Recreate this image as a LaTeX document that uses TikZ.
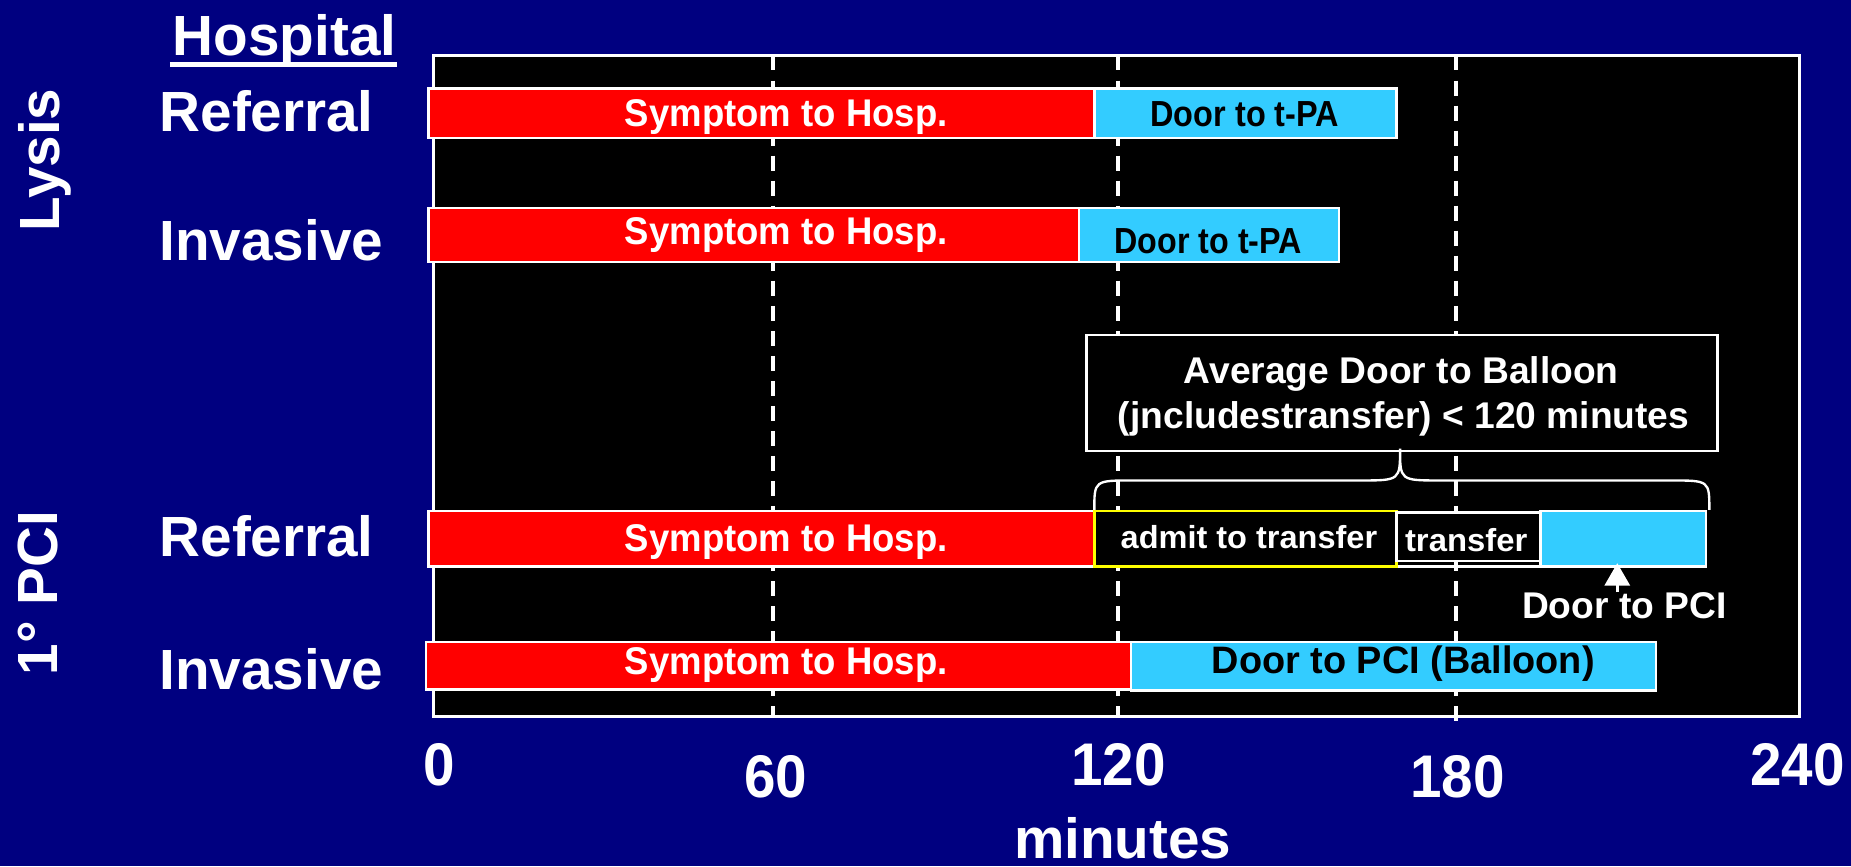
\documentclass[tikz,border=0pt]{standalone}
\usepackage{fontspec}
\setmainfont{Liberation Sans}
\usepackage{graphicx}
\usetikzlibrary{arrows.meta}

\definecolor{slidenavy}{RGB}{0,0,128}
\definecolor{barred}{RGB}{255,0,0}
\definecolor{barblue}{RGB}{51,204,255}
\definecolor{baryellow}{RGB}{255,255,0}

% horizontally squeezed / stretched text
\newcommand\hs[2]{\scalebox{#1}[1]{#2}}
% a box given by its corners: name, x1, y1, x2, y2, style
\newcommand\segbox[6]{%
  \pgfmathsetmacro\segw{#4-#2}\pgfmathsetmacro\segh{#5-#3}%
  \node[#6, minimum width=\segw pt, minimum height=\segh pt] (#1) at ({(#2+#4)/2},{(#3+#5)/2}) {};}

\begin{document}
\begin{tikzpicture}[x=1pt,y=-1pt,
  txt/.style={inner sep=0pt, anchor=base},
  big/.style={txt, text=white, font=\bfseries\fontsize{48}{56}\selectfont},
  axisnum/.style={txt, text=white, font=\bfseries\fontsize{51}{60}\selectfont},
  symlbl/.style={txt, text=white, font=\bfseries\fontsize{32.7}{38}\selectfont},
  doorlbl/.style={txt, text=black, font=\bfseries\fontsize{30.7}{36}\selectfont},
  pcilbl/.style={txt, text=black, font=\bfseries\fontsize{32.4}{38}\selectfont},
  smalllbl/.style={txt, text=white, font=\bfseries\fontsize{27}{32}\selectfont},
  notelbl/.style={txt, text=white, font=\bfseries\fontsize{31.5}{37}\selectfont},
  barbox/.style={draw=white, line width=2pt, inner sep=0pt},
  redbar/.style={barbox, fill=barred},
  bluebar/.style={barbox, fill=barblue},
  admitbox/.style={draw=baryellow, line width=2pt, fill=black, inner sep=0pt},
  darkbox/.style={draw=white, line width=2pt, fill=black, inner sep=0pt},
  gridline/.style={white, line width=3.4pt, dash pattern=on 12.7pt off 8.5pt},
  brace/.style={white, line width=2pt},
  pointer/.style={white, line width=3pt, -{Triangle[width=21pt,length=19pt]}}
]
\useasboundingbox (0,0) rectangle (1568,734);
\fill[slidenavy] (0,0) rectangle (1568,734);

% plot area
\segbox{frame}{367}{47}{1524}{607}{draw=white, line width=2.5pt, fill=black}

% time grid at 60, 120 and 180 minutes
\coordinate (g60a) at (655,47);   \coordinate (g60b) at (655,607);
\coordinate (g120a) at (947,47);  \coordinate (g120b) at (947,607);
\coordinate (g180a) at (1233,47); \coordinate (g180b) at (1233,611);
\draw[gridline] (g60a) -- (g60b);
\draw[gridline] (g120a) -- (g120b);
\draw[gridline] (g180a) -- (g180b);

% Lysis, referral hospital
\segbox{b1d}{927}{75}{1183}{117}{bluebar}
\segbox{b1s}{363}{75}{927}{117}{redbar}
% Lysis, invasive hospital
\segbox{b2d}{914}{176}{1134}{222}{bluebar}
\segbox{b2s}{363}{176}{914}{222}{redbar}
% primary PCI, referral hospital
\segbox{b3d}{1305}{433}{1445}{480}{bluebar}
\segbox{b3s}{363}{433}{927}{480}{redbar}
\segbox{b3a}{927}{433}{1183}{480}{admitbox}
\segbox{b3t}{1183}{434}{1305}{475}{darkbox}
\draw[white, line width=2pt] ([yshift=1pt]b3a.south east) -- ([yshift=1pt]b3d.south west);
% primary PCI, invasive hospital
\segbox{b4d}{958}{544}{1403}{585}{bluebar}
\segbox{b4s}{361}{544}{958}{584}{redbar}

% bar texts
\node[symlbl] (t1s) at (666,107) {\hs{0.946}{Symptom to Hosp.}};
\node[doorlbl] (t1d) at (1054.5,107.3) {\hs{0.895}{Door to t-PA}};
\node[symlbl] (t2s) at (666,207.5) {\hs{0.946}{Symptom to Hosp.}};
\node[doorlbl] (t2d) at (1023.6,214.6) {\hs{0.89}{Door to t-PA}};
\node[symlbl] (t3s) at (666,467.5) {\hs{0.946}{Symptom to Hosp.}};
\node[smalllbl] (t3a) at (1058,464.5) {\hs{1.02}{admit to transfer}};
\node[smalllbl] (t3t) at (1242,467.3) {\hs{1.03}{transfer}};
\node[symlbl] (t4s) at (666,571) {\hs{0.946}{Symptom to Hosp.}};
\node[pcilbl] (t4d) at (1188.7,570.4) {\hs{0.99}{Door to PCI (Balloon)}};

% door-to-balloon note with its brace
\segbox{note}{920.5}{284}{1455}{382}{darkbox}
\node[notelbl] (note1) at (1187,324.7) {Average Door to Balloon};
\node[notelbl] (note2) at (1189,362.8) {(jncludestransfer) < 120 minutes};
\coordinate (brL) at (927,432);
\coordinate (brR) at (1448,432);
\coordinate (brTip) at (1186,380);
\draw[brace] (brL) .. controls (927,407) .. (960,407) -- (1152,407)
  .. controls (1186,407) .. (brTip) .. controls (1186,407) .. (1220,407)
  -- (1415,407) .. controls (1448,407) .. (brR);

% door to PCI pointer
\node[notelbl] (dpci) at (1376,523.8) {Door to PCI};
\coordinate (pcitip) at (1370,477);
\draw[pointer] (dpci.north -| pcitip) -- (pcitip);

% row and group labels
\node[big] (hosp) at (241,47.3) {Hospital};
\draw[white, line width=5pt] (144,54.6) -- (336,54.6);
\node[big, anchor=base west] (r1) at (135,111.5) {Referral};
\node[big, anchor=base west] (r2) at (135,221) {Invasive};
\node[big, anchor=base west] (r3) at (135,471) {Referral};
\node[big, anchor=base west] (r4) at (135,584) {Invasive};
\node[big, rotate=90] (lysis) at (50.2,135.6) {Lysis};
\node[big, rotate=90] (pci) at (48.6,502.4) {1° PCI};

% time axis
\node[axisnum] (x0) at (372,665) {\hs{0.94}{0}};
\node[axisnum] (x60) at (657,675.5) {\hs{0.94}{60}};
\node[axisnum] (x120) at (947.6,665) {\hs{0.94}{120}};
\node[axisnum] (x180) at (1234.5,675.5) {\hs{0.94}{180}};
\node[axisnum] (x240) at (1522.5,665) {\hs{0.94}{240}};
\node[big] (xunit) at (951,727) {minutes};
\end{tikzpicture}
\end{document}
